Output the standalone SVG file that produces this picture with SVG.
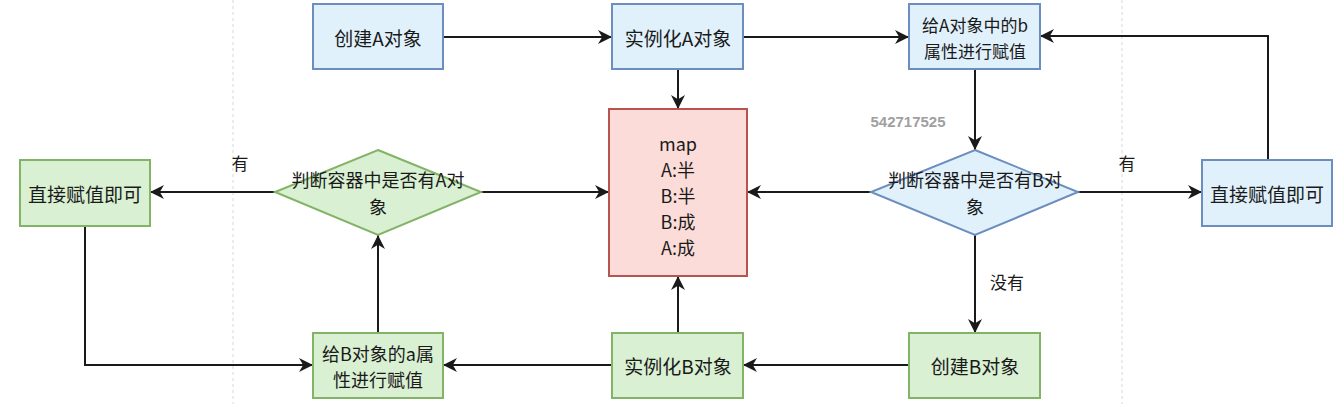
<svg xmlns="http://www.w3.org/2000/svg" width="1336" height="404" viewBox="0 0 1336 404">
<style>
text{font-family:"Noto Sans CJK SC","Liberation Sans",sans-serif;font-size:19px;fill:#1a1a1a;text-anchor:middle;dominant-baseline:central}
.ml{font-size:18px}
.blue{fill:#e1f1fc;stroke:#6c8ebf;stroke-width:2}
.green{fill:#d9f0d3;stroke:#82b366;stroke-width:2}
.red{fill:#fcdcd8;stroke:#b85450;stroke-width:2}
.edge{fill:none;stroke:#1a1a1a;stroke-width:2}
.grid{stroke:#d8d8d8;stroke-width:1;stroke-dasharray:3 3}
.wm{font-family:"Liberation Sans",sans-serif;font-size:15px;font-weight:bold;fill:#a0a0a0}
.lbl{font-size:17px}
</style>
<defs>
<marker id="arr" viewBox="0 0 10 10" refX="10" refY="5" markerWidth="14" markerHeight="14" markerUnits="userSpaceOnUse" orient="auto">
<path d="M0,0 L10,5 L0,10 L3,5 z" fill="#1a1a1a"/>
</marker>
</defs>
<rect width="1336" height="404" fill="#ffffff"/>
<g id="background">
<line class="grid" x1="233" y1="0" x2="233" y2="404"/>
<line class="grid" x1="1122" y1="0" x2="1122" y2="404"/>
<text class="wm" x="908" y="121">542717525</text>
</g>
<g id="connectors">
<path class="edge" d="M443,37 H612" marker-end="url(#arr)"/>
<path class="edge" d="M743,37 H909" marker-end="url(#arr)"/>
<path class="edge" d="M678,69 V109" marker-end="url(#arr)"/>
<path class="edge" d="M975,69 V150" marker-end="url(#arr)"/>
<path class="edge" d="M871,192 H747" marker-end="url(#arr)"/>
<path class="edge" d="M1078,192 H1202" marker-end="url(#arr)"/>
<path class="edge" d="M1268,160 V36 H1040" marker-end="url(#arr)"/>
<path class="edge" d="M975,235 V333" marker-end="url(#arr)"/>
<path class="edge" d="M909,365 H743" marker-end="url(#arr)"/>
<path class="edge" d="M678,333 V276" marker-end="url(#arr)"/>
<path class="edge" d="M612,365 H443" marker-end="url(#arr)"/>
<path class="edge" d="M378,333 V235" marker-end="url(#arr)"/>
<path class="edge" d="M275,192 H150" marker-end="url(#arr)"/>
<path class="edge" d="M481,192 H609" marker-end="url(#arr)"/>
<path class="edge" d="M85,226 V365 H313" marker-end="url(#arr)"/>
<text class="lbl" x="1127" y="162">有</text>
<text class="lbl" x="240" y="162">有</text>
<text class="lbl" x="1007" y="281">没有</text>
</g>
<g id="createA">
<rect class="blue" x="313" y="4" width="130" height="65"/>
<text x="378" y="37">创建A对象</text>
</g>
<g id="instA">
<rect class="blue" x="612" y="4" width="131" height="65"/>
<text x="678" y="37">实例化A对象</text>
</g>
<g id="assignA">
<rect class="blue" x="909" y="4" width="131" height="65"/>
<text x="975" y="24" style="font-size:17px"><tspan x="975" y="24">给A对象中的b</tspan><tspan x="975" y="49.5">属性进行赋值</tspan></text>
</g>
<g id="map">
<rect class="red" x="609" y="109" width="138" height="167"/>
<text class="ml" x="678" y="143"><tspan x="678" y="143">map</tspan><tspan x="678" y="169">A:半</tspan><tspan x="678" y="195">B:半</tspan><tspan x="678" y="221">B:成</tspan><tspan x="678" y="247">A:成</tspan></text>
</g>
<g id="checkB">
<polygon class="blue" points="975,150 1078,192 975,235 871,192"/>
<text class="ml" x="975" y="179"><tspan x="975" y="179">判断容器中是否有B对</tspan><tspan x="975" y="205.5">象</tspan></text>
</g>
<g id="directRight">
<rect class="blue" x="1202" y="160" width="130" height="66"/>
<text x="1267" y="193">直接赋值即可</text>
</g>
<g id="checkA">
<polygon class="green" points="378,150 481,192 378,235 275,192"/>
<text class="ml" x="378" y="179"><tspan x="378" y="179">判断容器中是否有A对</tspan><tspan x="378" y="205.5">象</tspan></text>
</g>
<g id="directLeft">
<rect class="green" x="20" y="160" width="130" height="66"/>
<text x="85" y="193">直接赋值即可</text>
</g>
<g id="assignB">
<rect class="green" x="313" y="333" width="130" height="65"/>
<text class="ml" x="378" y="352.5"><tspan x="378" y="352.5">给B对象的a属</tspan><tspan x="378" y="379">性进行赋值</tspan></text>
</g>
<g id="instB">
<rect class="green" x="612" y="333" width="131" height="65"/>
<text x="678" y="365">实例化B对象</text>
</g>
<g id="createB">
<rect class="green" x="909" y="333" width="131" height="65"/>
<text x="975" y="365">创建B对象</text>
</g>
</svg>
